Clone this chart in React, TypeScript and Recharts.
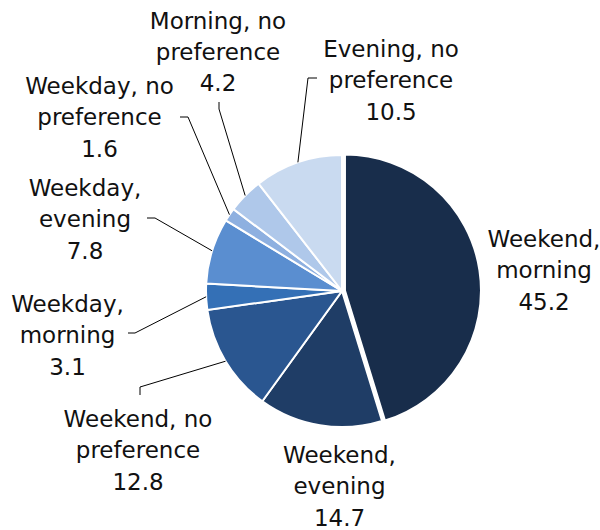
import { PieChart, Pie, Cell } from "recharts"

const categories = [
  "Weekend, morning",
  "Weekend, evening",
  "Weekend, no preference",
  "Weekday, morning",
  "Weekday, evening",
  "Weekday, no preference",
  "Morning, no preference",
  "Evening, no preference",
]
const shares = [45.2, 14.7, 12.8, 3.1, 7.8, 1.6, 4.2, 10.5]
const colors = ["#182d4b", "#1f3d66", "#2a5690", "#3470b6", "#5a8ed0", "#8eb0e0", "#afc8ea", "#c9daf0"]

// label placement, offsets from the pie centre: text centre x, first baseline y,
// and the leader's elbow + stub end (null = no leader)
const labelLayout: { tx: number; ty: number; leader: number[][] | null }[] = [
  { tx: 202, ty: -44, leader: null },
  { tx: -2.5, ty: 172, leader: null },
  { tx: -204, ty: 136, leader: [[-202, 96], [-202, 104]] },
  { tx: -274.5, ty: 21, leader: [[-207, 42], [-214, 42]] },
  { tx: -257, ty: -95, leader: [[-187, -73], [-195, -73]] },
  { tx: -242.5, ty: -197, leader: [[-154, -174], [-162, -174]] },
  { tx: -124, ty: -262.5, leader: [[-123, -182], [-123, -189]] },
  { tx: 49, ty: -234, leader: [[-34, -213], [-25, -213]] },
]

const data = categories.map((name, i) => ({ name, value: shares[i] }))

const RAD = Math.PI / 180
const CX = 342
const CY = 291
const R = 136
const EXPLODE = 3

function splitName(name: string) {
  if (name.endsWith(" no preference")) return [name.replace(" preference", ""), "preference"]
  const [a, b] = name.split(", ")
  return [a + ",", b]
}

function renderLabel(props: any) {
  const { cx, cy, midAngle, outerRadius, index, name, value } = props
  const layout = labelLayout[index]
  const lines = [...splitName(name), value.toFixed(1)]
  const x = cx + layout.tx
  const y0 = cy + layout.ty
  let leader = null
  if (layout.leader) {
    const ex = cx + outerRadius * Math.cos(-midAngle * RAD)
    const ey = cy + outerRadius * Math.sin(-midAngle * RAD)
    const pts = [[ex, ey], ...layout.leader.map(([dx, dy]) => [cx + dx, cy + dy])]
    leader = <polyline points={pts.map((p) => p.join(",")).join(" ")} fill="none" stroke="#000" strokeWidth={1} />
  }
  return (
    <g key={`lbl-${index}`}>
      {leader}
      <text x={x} y={y0} textAnchor="middle" fontFamily="DejaVu Sans" fontSize={23} fill="#111">
        {lines.map((l, i) => (
          <tspan key={i} x={x} y={y0 + i * 31.4}>
            {l}
          </tspan>
        ))}
      </text>
    </g>
  )
}

export default function App() {
  const mid = (90 - (shares[0] / shares.reduce((a, b) => a + b, 0)) * 180) * RAD
  return (
    <div style={{ width: 600, height: 530, background: "#fff" }}>
      <style>{`body{margin:0}`}</style>
      <PieChart width={600} height={530} margin={{ top: 0, right: 0, bottom: 0, left: 0 }}>
        <Pie
          data={data}
          dataKey="value"
          nameKey="name"
          cx={CX}
          cy={CY}
          outerRadius={R}
          startAngle={90}
          endAngle={-270}
          stroke="#fff"
          strokeWidth={2}
          label={renderLabel}
          labelLine={false}
          isAnimationActive={false}
        >
          {data.map((d, i) => (
            <Cell key={d.name} fill={i === 0 ? "none" : colors[i]} stroke={i === 0 ? "none" : "#fff"} />
          ))}
        </Pie>
        <Pie
          data={data}
          dataKey="value"
          nameKey="name"
          cx={CX + EXPLODE * Math.cos(mid)}
          cy={CY - EXPLODE * Math.sin(mid)}
          outerRadius={R}
          startAngle={90}
          endAngle={-270}
          stroke="#fff"
          strokeWidth={2}
          isAnimationActive={false}
        >
          {data.map((d, i) => (
            <Cell key={d.name} fill={i === 0 ? colors[0] : "none"} stroke={i === 0 ? "#fff" : "none"} />
          ))}
        </Pie>
      </PieChart>
    </div>
  )
}
